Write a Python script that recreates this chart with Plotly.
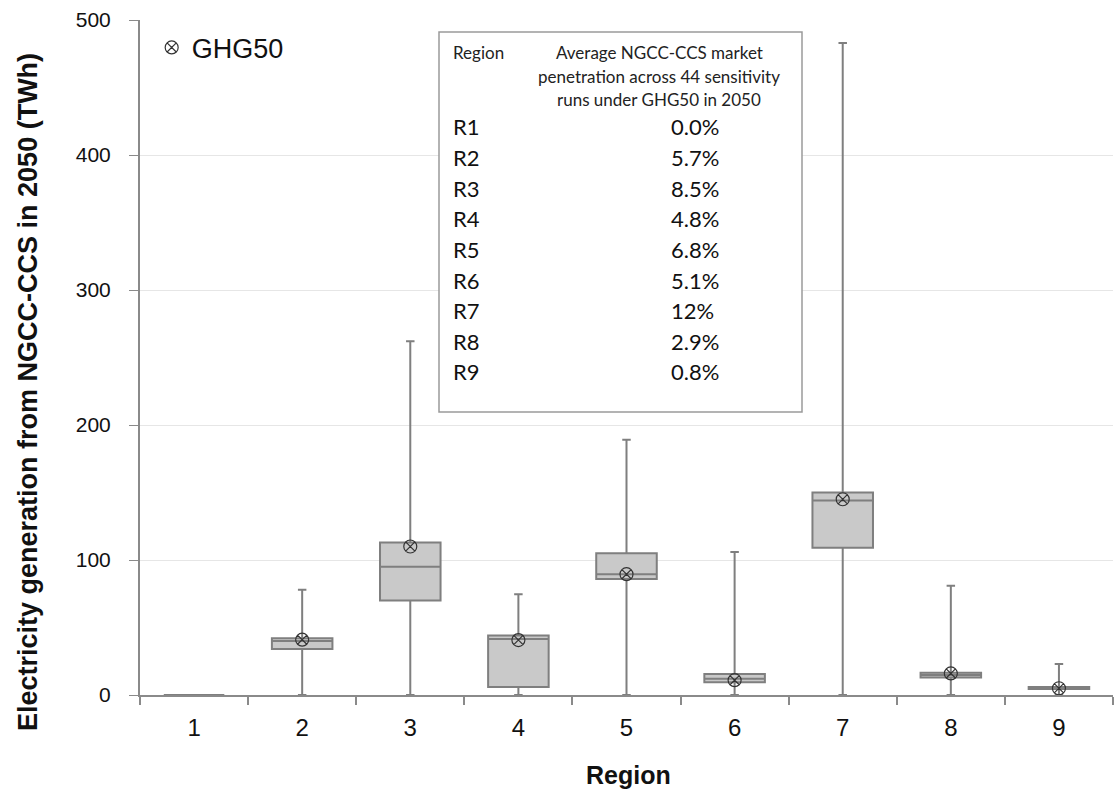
import plotly.graph_objects as go

regions = [1, 2, 3, 4, 5, 6, 7, 8, 9]
lower = [0, 0, 0, 0, 0, 0, 0, 0, 0]
q1 = [0, 34, 70, 6, 86, 9.5, 109, 13, 4.4]
median = [0, 40, 95, 41.5, 89.5, 12, 144, 14.8, 5]
q3 = [0, 42, 113, 44, 105, 15.5, 150, 16.5, 6]
upper = [0, 78, 262, 74.6, 189, 106, 483, 81, 23]
mean = [0, 41, 110, 40.7, 89.5, 11, 145, 16, 5]

table_regions = ["R1", "R2", "R3", "R4", "R5", "R6", "R7", "R8", "R9"]
table_values = ["0.0%", "5.7%", "8.5%", "4.8%", "6.8%", "5.1%", "12%", "2.9%", "0.8%"]

fig = go.Figure()
fig.add_trace(go.Box(
    x=regions, q1=q1, median=median, q3=q3, lowerfence=lower, upperfence=upper,
    width=0.56, whiskerwidth=0.14, boxpoints=False,
    fillcolor="#c9c9c9", line=dict(color="#7f7f7f", width=2),
    showlegend=False, hoverinfo="skip",
))
fig.add_trace(go.Scatter(
    x=regions[1:], y=mean[1:], mode="markers", name="GHG50",
    marker=dict(symbol="circle-x-open", size=13, color="#333333", line=dict(width=1.2)),
))

fig.update_layout(
    width=1115, height=792,
    margin=dict(l=140, r=2, t=20, b=97),
    plot_bgcolor="white", paper_bgcolor="white",
    font=dict(family="Liberation Sans", color="#111111"),
    legend=dict(x=0.012, y=0.995, xanchor="left", yanchor="top",
                font=dict(size=27, family="Liberation Sans"), bgcolor="rgba(0,0,0,0)"),
)
fig.update_xaxes(
    range=[0.5, 9.5], tickmode="array", tickvals=regions, ticktext=[str(r) for r in regions],
    ticks="", showgrid=False, showline=True, linecolor="#8a8a8a", linewidth=2,
    tickfont=dict(size=24, family="Liberation Sans"), ticklabelstandoff=10,
    minor=dict(tickmode="array", tickvals=[r + 0.5 for r in [0] + regions], ticks="outside",
               ticklen=8, tickcolor="#8a8a8a", tickwidth=1.5, showgrid=False),
    zeroline=False,
)
fig.update_yaxes(
    range=[0, 500], tickvals=[0, 100, 200, 300, 400, 500], ticks="outside", ticklen=9,
    tickcolor="#8a8a8a", showline=True, linecolor="#8a8a8a", linewidth=2,
    showgrid=True, gridcolor="#e6e6e6", gridwidth=1, zeroline=False,
    tickfont=dict(size=21, family="Liberation Sans"), ticklabelstandoff=14,
)

def px_x(p):
    return (p - 140) / 973.0

def px_y(p):
    return (695 - p) / 675.0

# axis titles
fig.add_annotation(xref="paper", yref="paper", x=px_x(28), y=px_y(392),
                   text="<b>Electricity generation from NGCC-CCS in 2050 (TWh)</b>",
                   textangle=-90, showarrow=False, xanchor="center", yanchor="middle",
                   font=dict(size=27, family="Liberation Sans", color="#111"))
fig.add_annotation(xref="paper", yref="paper", x=px_x(628), y=px_y(775),
                   text="<b>Region</b>", showarrow=False, xanchor="center", yanchor="middle",
                   font=dict(size=25, family="Liberation Sans", color="#111"))

fig.add_shape(type="rect", xref="paper", yref="paper",
              x0=px_x(439), x1=px_x(802), y0=px_y(412), y1=px_y(32),
              line=dict(color="#9a9a9a", width=1.5), fillcolor="white", layer="above")

tfont = "Lato"
fig.add_annotation(xref="paper", yref="paper", x=px_x(451), y=px_y(52), text="Region",
                   showarrow=False, xanchor="left", yanchor="middle",
                   font=dict(size=17, family=tfont, color="#222"))
for i, line in enumerate(["Average NGCC-CCS market", "penetration across 44 sensitivity",
                          "runs under GHG50 in 2050"]):
    fig.add_annotation(xref="paper", yref="paper", x=px_x(659), y=px_y(52 + i * 24), text=line,
                       showarrow=False, xanchor="center", yanchor="middle",
                       font=dict(size=17, family=tfont, color="#222"))
for i, (r, v) in enumerate(zip(table_regions, table_values)):
    yy = px_y(127 + i * 30.6)
    fig.add_annotation(xref="paper", yref="paper", x=px_x(451), y=yy, text=r,
                       showarrow=False, xanchor="left", yanchor="middle",
                       font=dict(size=22, family=tfont, color="#111"))
    fig.add_annotation(xref="paper", yref="paper", x=px_x(669), y=yy, text=v,
                       showarrow=False, xanchor="left", yanchor="middle",
                       font=dict(size=22, family=tfont, color="#111"))

fig.write_html("out.html")
